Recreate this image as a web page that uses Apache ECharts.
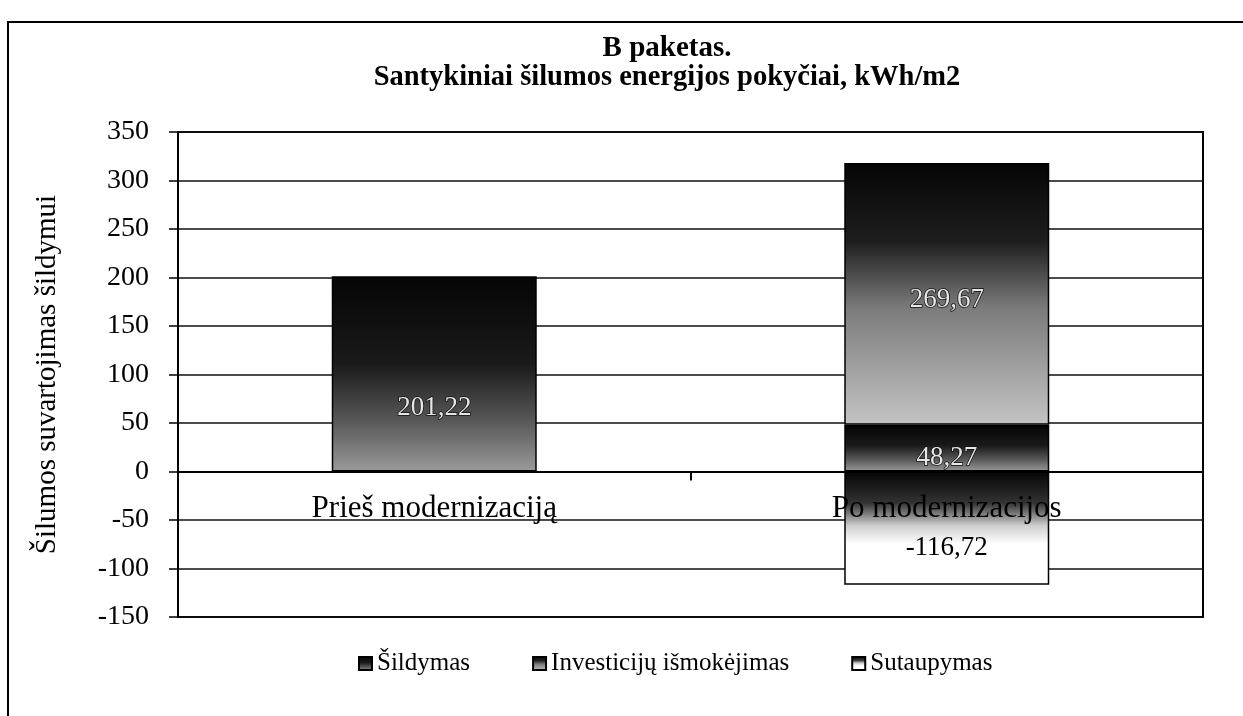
<!DOCTYPE html>
<html>
<head>
<meta charset="utf-8">
<script src="https://cdn.jsdelivr.net/npm/echarts@6/dist/echarts.min.js"></script>
<style>
  html, body { margin: 0; padding: 0; background: #fff; }
  #chart { width: 1243px; height: 716px; }
</style>
</head>
<body>
<div id="chart"></div>
<script>
// ---- data ----
const categories = ['Prieš modernizaciją', 'Po modernizacijos'];
const seriesNames = ['Šildymas', 'Investicijų išmokėjimas', 'Sutaupymas'];
const sildymas = [201.22, 48.27];
const investicijuIsmokejimas = [null, 269.67];
const sutaupymas = [null, -116.72];
const yTicks = { min: -150, max: 350, step: 50 };
const titleText = 'B paketas.';
const subtitleText = 'Santykiniai šilumos energijos pokyčiai, kWh/m2';
const yAxisTitle = 'Šilumos suvartojimas šildymui';

// ---- styles ----
const FONT = 'Liberation Serif';
const fills = [
  { type: 'linear', x: 0, y: 0, x2: 0, y2: 1, colorStops: [
    { offset: 0, color: '#050505' }, { offset: 0.45, color: '#1a1a1a' },
    { offset: 0.75, color: '#5a5a5a' }, { offset: 1, color: '#9a9a9a' } ] },
  { type: 'linear', x: 0, y: 0, x2: 0, y2: 1, colorStops: [
    { offset: 0, color: '#050505' }, { offset: 0.3, color: '#1e1e1e' },
    { offset: 0.55, color: '#7a7a7a' }, { offset: 1, color: '#c4c4c4' } ] },
  { type: 'linear', x: 0, y: 0, x2: 0, y2: 1, colorStops: [
    { offset: 0, color: '#050505' }, { offset: 0.28, color: '#333' },
    { offset: 0.48, color: '#cfcfcf' }, { offset: 0.64, color: '#ffffff' },
    { offset: 1, color: '#ffffff' } ] }
];
// vertical shift of the value labels (style only)
const labelShift = [[34, 10], [0, 6], [0, 20]];
const labelStyles = [
  { color: '#e6e6e6', textBorderColor: '#111', textBorderWidth: 1.5 },
  { color: '#e6e6e6', textBorderColor: '#111', textBorderWidth: 1.5 },
  { color: '#000' }
];

const valueLists = [sildymas, investicijuIsmokejimas, sutaupymas];
const fmt = v => String(v).replace('.', ',');

const series = valueLists.map((vals, s) => ({
  name: seriesNames[s],
  type: 'bar',
  stack: 'total',
  barWidth: '40%',
  itemStyle: { color: fills[s], borderColor: '#000', borderWidth: 1.5 },
  label: Object.assign({
    show: true, position: 'inside', fontFamily: FONT, fontSize: 27,
    formatter: p => fmt(p.value)
  }, labelStyles[s]),
  data: vals.map((v, i) => v == null ? '-' : { value: v, label: { offset: [0, labelShift[s][i]] } })
}));

const chart = echarts.init(document.getElementById('chart'), null, { renderer: 'canvas' });
chart.setOption({
  animation: false,
  backgroundColor: '#fff',
  title: {
    text: titleText,
    subtext: subtitleText,
    left: 662, top: 29, textAlign: 'center', itemGap: 0,
    textStyle: { fontFamily: FONT, fontWeight: 'bold', fontSize: 29, color: '#000' },
    subtextStyle: { fontFamily: FONT, fontWeight: 'bold', fontSize: 28.5, color: '#000' }
  },
  legend: {
    data: seriesNames,
    left: 353, top: 646,
    itemWidth: 13, itemHeight: 13, itemGap: 62,
    icon: 'rect',
    textStyle: { fontFamily: FONT, fontSize: 25, color: '#000' }
  },
  grid: {
    left: 178, right: 40, top: 132, bottom: 99,
    show: true, borderColor: '#000', borderWidth: 2, backgroundColor: 'transparent'
  },
  xAxis: {
    type: 'category',
    data: categories,
    z: 10,
    axisLine: { onZero: true, lineStyle: { color: '#000', width: 2 } },
    axisTick: { show: true, length: 9, lineStyle: { color: '#000', width: 2 } },
    axisLabel: { margin: -124, fontFamily: FONT, fontSize: 31, color: '#000' },
    splitLine: { show: false }
  },
  yAxis: {
    type: 'value',
    min: yTicks.min, max: yTicks.max, interval: yTicks.step,
    name: yAxisTitle, nameLocation: 'middle', nameGap: 116,
    nameTextStyle: { fontFamily: FONT, fontSize: 29, color: '#000' },
    axisLine: { show: true, lineStyle: { color: '#000', width: 2 } },
    axisTick: { show: true, length: 9, lineStyle: { color: '#000', width: 1.5 } },
    axisLabel: { margin: 29, fontFamily: FONT, fontSize: 28, color: '#000' },
    splitLine: { show: true, lineStyle: { color: '#111', width: 1.5 } }
  },
  graphic: [{
    type: 'rect', z: -1, silent: true,
    shape: { x: 8, y: 22, width: 1300, height: 800 },
    style: { fill: 'none', stroke: '#000', lineWidth: 2 }
  }],
  series: series
});
</script>
</body>
</html>
